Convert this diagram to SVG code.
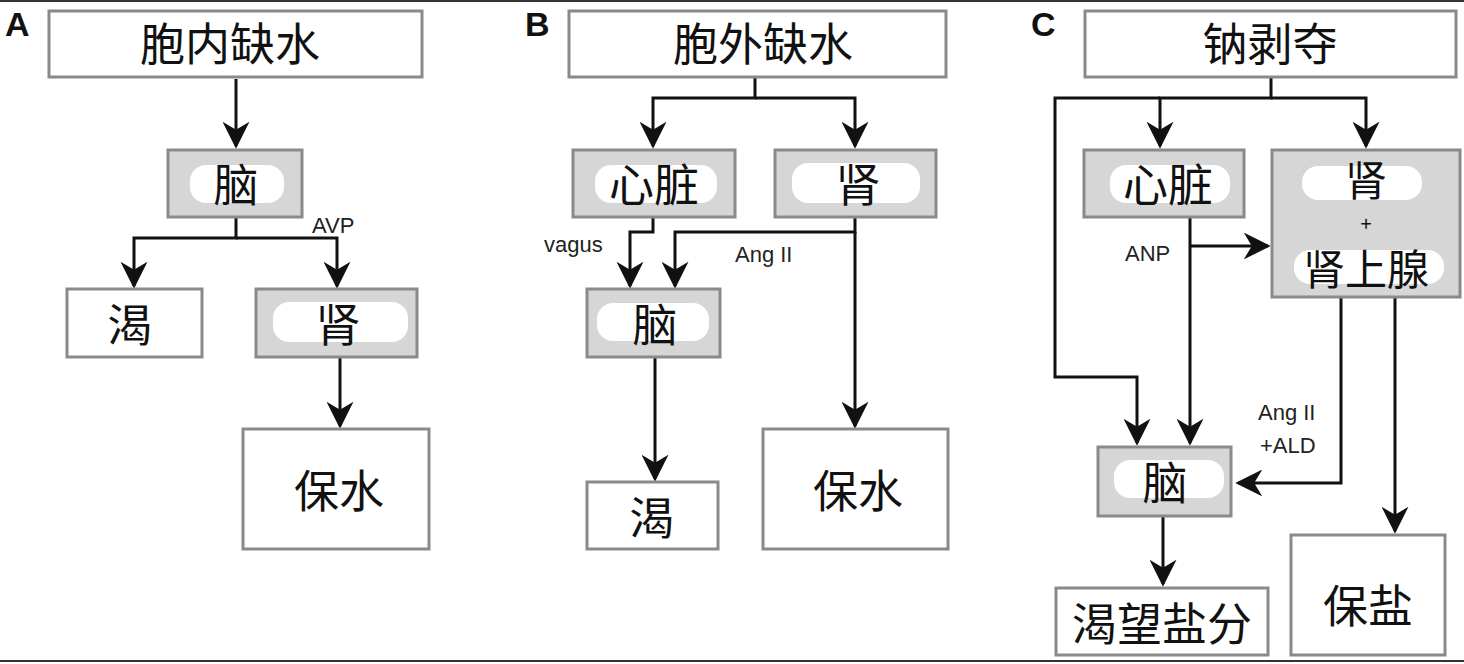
<svg xmlns="http://www.w3.org/2000/svg" width="1464" height="664" viewBox="0 0 1464 664">
<style>
.w{fill:#fff;stroke:#8a8a8a;stroke-width:3}
.g{fill:#d6d6d6;stroke:#8a8a8a;stroke-width:3}
.b{fill:#fff}
.t{font-family:"Noto Sans CJK SC","Liberation Sans",sans-serif;fill:#111;text-anchor:middle}
.s{font-family:"Liberation Sans",sans-serif;fill:#222;font-size:22px}
.L{font-family:"Liberation Sans",sans-serif;font-weight:bold;font-size:34px;fill:#111}
.c path{fill:none;stroke:#111;stroke-width:3}
</style>
<defs><marker id="a" viewBox="0 0 10 10" refX="9" refY="5" markerWidth="9" markerHeight="9" orient="auto" markerUnits="strokeWidth"><path d="M0,0 L10,5 L0,10 L3,5 z" fill="#111"/></marker></defs>
<rect width="1464" height="664" fill="#fff"/>
<line x1="0" y1="1" x2="1464" y2="1" stroke="#333" stroke-width="2"/>
<line x1="0" y1="661" x2="1464" y2="661" stroke="#333" stroke-width="2"/>
<text class="L" x="5" y="36">A</text><text class="L" x="525" y="36">B</text><text class="L" x="1031" y="36">C</text>
<g class="c">
<path d="M236,79 V146" marker-end="url(#a)"/>
<path d="M236,218 V238 H134 V286" marker-end="url(#a)"/>
<path d="M236,238 H337 V286" marker-end="url(#a)"/>
<path d="M340,358 V426" marker-end="url(#a)"/>
<path d="M755,78 V98 H653 V146" marker-end="url(#a)"/>
<path d="M755,98 H855 V146" marker-end="url(#a)"/>
<path d="M653,218 V232 H630 V286" marker-end="url(#a)"/>
<path d="M855,218 V232 H675 V286" marker-end="url(#a)"/>
<path d="M855,232 V426" marker-end="url(#a)"/>
<path d="M655,358 V479" marker-end="url(#a)"/>
<path d="M1271,78 V98 H1160 V146" marker-end="url(#a)"/>
<path d="M1271,98 H1366 V146" marker-end="url(#a)"/>
<path d="M1160,98 H1055 V377 H1137 V443" marker-end="url(#a)"/>
<path d="M1190,218 V443" marker-end="url(#a)"/>
<path d="M1190,246 H1268" marker-end="url(#a)"/>
<path d="M1341,298 V483 H1238" marker-end="url(#a)"/>
<path d="M1395,298 V531" marker-end="url(#a)"/>
<path d="M1163,517 V584" marker-end="url(#a)"/>
</g>
<text class="s" x="312" y="233">AVP</text>
<text class="s" x="544" y="252">vagus</text>
<text class="s" x="735" y="262">Ang II</text>
<text class="s" x="1125" y="261">ANP</text>
<text class="s" x="1258" y="420">Ang II</text>
<text class="s" x="1260" y="453">+ALD</text>
<g id="a1"><rect class="w" x="49" y="11" width="373" height="66"/><text class="t" x="230" y="61" font-size="45">胞内缺水</text></g>
<g id="a2"><rect class="g" x="168" y="150" width="134" height="67"/><rect class="b" x="190" y="165" width="94" height="38" rx="16"/><text class="t" x="236" y="202" font-size="45">脑</text></g>
<g id="a3"><rect class="w" x="67" y="289" width="135" height="68"/><text class="t" x="130" y="342" font-size="45">渴</text></g>
<g id="a4"><rect class="g" x="256" y="289" width="161" height="68"/><rect class="b" x="273" y="302" width="135" height="40" rx="16"/><text class="t" x="338" y="342" font-size="45">肾</text></g>
<g id="a5"><rect class="w" x="243" y="429" width="186" height="120"/><text class="t" x="339" y="508" font-size="45">保水</text></g>
<g id="b1"><rect class="w" x="569" y="11" width="377" height="66"/><text class="t" x="763" y="61" font-size="45">胞外缺水</text></g>
<g id="b2"><rect class="g" x="573" y="150" width="162" height="67"/><rect class="b" x="595" y="165" width="122" height="38" rx="16"/><text class="t" x="654" y="202" font-size="45">心脏</text></g>
<g id="b3"><rect class="g" x="775" y="150" width="161" height="67"/><rect class="b" x="792" y="163" width="128" height="40" rx="16"/><text class="t" x="858" y="202" font-size="45">肾</text></g>
<g id="b4"><rect class="g" x="587" y="289" width="133" height="68"/><rect class="b" x="597" y="303" width="112" height="38" rx="16"/><text class="t" x="655" y="342" font-size="45">脑</text></g>
<g id="b5"><rect class="w" x="587" y="482" width="131" height="67"/><text class="t" x="652" y="535" font-size="45">渴</text></g>
<g id="b6"><rect class="w" x="763" y="429" width="185" height="120"/><text class="t" x="858" y="508" font-size="45">保水</text></g>
<g id="c1"><rect class="w" x="1085" y="11" width="371" height="66"/><text class="t" x="1270" y="61" font-size="45">钠剥夺</text></g>
<g id="c2"><rect class="g" x="1084" y="150" width="160" height="67"/><rect class="b" x="1110" y="165" width="120" height="38" rx="16"/><text class="t" x="1168" y="202" font-size="45">心脏</text></g>
<g id="c3"><rect class="g" x="1272" y="150" width="188" height="147"/><rect class="b" x="1302" y="166" width="120" height="34" rx="16"/><rect class="b" x="1294" y="250" width="150" height="34" rx="16"/><text class="t" x="1366" y="196" font-size="42">肾</text><text class="t" x="1366" y="231" font-size="20" font-family="Liberation Sans">+</text><text class="t" x="1366" y="285" font-size="42">肾上腺</text></g>
<g id="c4"><rect class="g" x="1098" y="447" width="133" height="69"/><rect class="b" x="1114" y="460" width="110" height="38" rx="16"/><text class="t" x="1165" y="500" font-size="45">脑</text></g>
<g id="c5"><rect class="w" x="1056" y="588" width="212" height="67"/><text class="t" x="1162" y="641" font-size="45">渴望盐分</text></g>
<g id="c6"><rect class="w" x="1291" y="535" width="154" height="120"/><text class="t" x="1368" y="623" font-size="45">保盐</text></g>
</svg>
